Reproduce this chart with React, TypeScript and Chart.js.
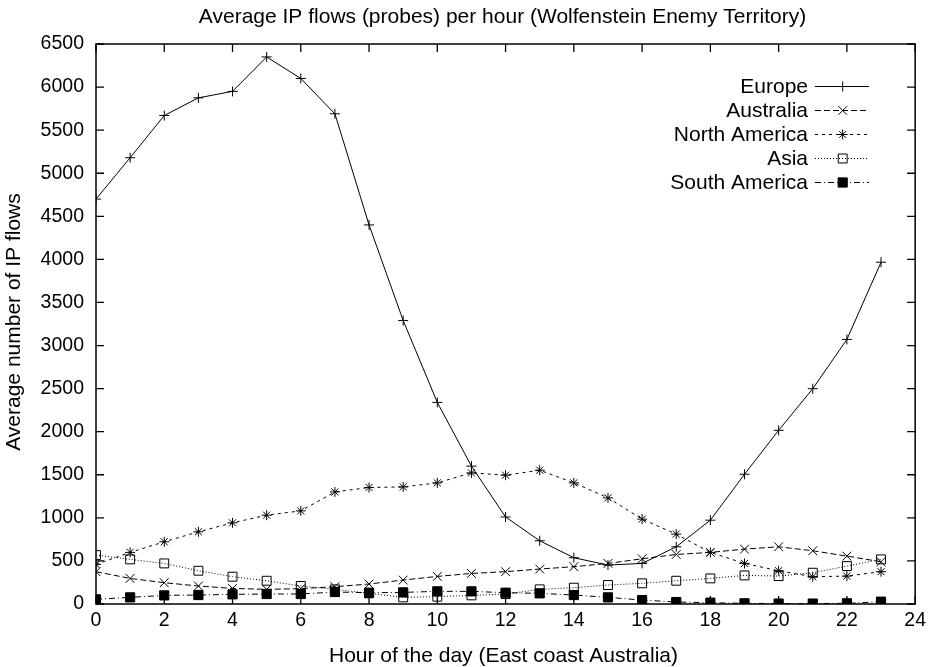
import { useEffect, useRef } from 'react';
import { Chart, registerables } from 'chart.js';

Chart.register(...registerables);

const hours = [0, 1, 2, 3, 4, 5, 6, 7, 8, 9, 10, 11, 12, 13, 14, 15, 16, 17, 18, 19, 20, 21, 22, 23];
const europe = [4700, 5180, 5670, 5875, 5950, 6350, 6100, 5690, 4400, 3290, 2340, 1600, 1010, 734, 537, 452, 471, 664, 973, 1506, 2016, 2499, 3071, 3967];
const australia = [375, 297, 247, 209, 181, 170, 178, 201, 232, 278, 320, 355, 375, 406, 433, 471, 525, 575, 599, 637, 664, 618, 556, 490];
const northAmerica = [460, 599, 722, 838, 942, 1031, 1081, 1301, 1352, 1359, 1406, 1522, 1495, 1553, 1406, 1232, 985, 811, 599, 471, 386, 317, 324, 375];
const asia = [568, 518, 471, 386, 317, 270, 209, 170, 124, 77, 85, 100, 115, 170, 189, 220, 240, 270, 297, 332, 324, 363, 440, 518];
const southAmerica = [54, 77, 100, 104, 112, 116, 116, 139, 131, 135, 147, 147, 131, 124, 104, 77, 46, 23, 15, 8, 5, 5, 8, 27];

const seriesNames = ['Europe', 'Australia', 'North America', 'Asia', 'South America'];
const xTickValues = [0, 2, 4, 6, 8, 10, 12, 14, 16, 18, 20, 22, 24];
const yTickValues = [0, 500, 1000, 1500, 2000, 2500, 3000, 3500, 4000, 4500, 5000, 5500, 6000, 6500];

const titleText = 'Average IP flows (probes) per hour (Wolfenstein Enemy Territory)';
const xTitle = 'Hour of the day (East coast Australia)';
const yTitle = 'Average number of IP flows';

const FONT = "'Liberation Sans', Arial, Helvetica, sans-serif";
const FS = 21;
const TICK_FS = 19.5;

const styles = [
  { dash: [], pointStyle: 'cross', radius: 5, fill: 'rgba(0,0,0,0)' },
  { dash: [6, 3], pointStyle: 'crossRot', radius: 6.2, fill: 'rgba(0,0,0,0)' },
  { dash: [3, 4], pointStyle: 'star', radius: 5, fill: 'rgba(0,0,0,0)' },
  { dash: [1, 2], pointStyle: 'rect', radius: 6.3, fill: 'rgba(0,0,0,0)' },
  { dash: [6, 3, 1, 3], pointStyle: 'rect', radius: 6.5, fill: '#000' },
];

function drawMarker(ctx: CanvasRenderingContext2D, st: any, x: number, y: number) {
  const r = st.radius;
  ctx.save();
  ctx.setLineDash([]);
  ctx.lineWidth = 1;
  ctx.strokeStyle = '#000';
  ctx.beginPath();
  if (st.pointStyle === 'cross' || st.pointStyle === 'star') {
    ctx.moveTo(x - r, y); ctx.lineTo(x + r, y);
    ctx.moveTo(x, y - r); ctx.lineTo(x, y + r);
  }
  if (st.pointStyle === 'crossRot' || st.pointStyle === 'star') {
    const d = r * Math.SQRT1_2;
    ctx.moveTo(x - d, y - d); ctx.lineTo(x + d, y + d);
    ctx.moveTo(x - d, y + d); ctx.lineTo(x + d, y - d);
  }
  if (st.pointStyle === 'rect') {
    const s = r * Math.SQRT1_2;
    ctx.rect(x - s, y - s, 2 * s, 2 * s);
    if (st.fill === '#000') { ctx.fillStyle = '#000'; ctx.fill(); }
  }
  ctx.stroke();
  ctx.restore();
}

const decorPlugin = {
  id: 'decor',
  beforeDatasetsDraw(chart: any) {
    const { ctx, chartArea: a, scales } = chart;
    const xs = scales.x;
    const ys = scales.y;
    ctx.save();
    ctx.strokeStyle = '#000';
    ctx.lineWidth = 1.5;
    ctx.setLineDash([]);
    ctx.strokeRect(a.left, a.top, a.right - a.left, a.bottom - a.top);
    ctx.lineWidth = 1.3;
    ctx.beginPath();
    xs.ticks.forEach((t: any) => {
      const px = xs.getPixelForValue(t.value);
      ctx.moveTo(px, a.bottom);
      ctx.lineTo(px, a.bottom - 8);
      ctx.moveTo(px, a.top);
      ctx.lineTo(px, a.top + 8);
    });
    ys.ticks.forEach((t: any) => {
      const py = ys.getPixelForValue(t.value);
      ctx.moveTo(a.left, py);
      ctx.lineTo(a.left + 8, py);
      ctx.moveTo(a.right, py);
      ctx.lineTo(a.right - 8, py);
    });
    ctx.stroke();

    ctx.fillStyle = '#000';
    ctx.font = `${FS}px ${FONT}`;
    ctx.textAlign = 'center';
    ctx.textBaseline = 'alphabetic';
    ctx.fillText(titleText, 502.5, 22.7);
    ctx.fillText(xTitle, 503.5, 661.5);
    ctx.save();
    ctx.translate(19.5, 322);
    ctx.rotate(-Math.PI / 2);
    ctx.fillText(yTitle, 0, 0);
    ctx.restore();
    ctx.restore();
  },
  afterDraw(chart: any) {
    const { ctx } = chart;
    ctx.save();
    ctx.font = `${FS}px ${FONT}`;
    ctx.fillStyle = '#000';
    ctx.strokeStyle = '#000';
    ctx.textAlign = 'right';
    ctx.textBaseline = 'alphabetic';
    seriesNames.forEach((name, i) => {
      const base = 93.3 + 24 * i;
      const ly = base - 6.8;
      ctx.fillStyle = '#000';
      ctx.fillText(name, 808, base);
      const st = styles[i];
      ctx.lineWidth = 1;
      ctx.setLineDash(st.dash);
      ctx.beginPath();
      ctx.moveTo(815, ly);
      ctx.lineTo(869, ly);
      ctx.stroke();
      drawMarker(ctx, st, 842.7, ly);
    });
    ctx.restore();
  },
};

export default function App() {
  const ref = useRef<HTMLCanvasElement | null>(null);
  useEffect(() => {
    document.body.style.margin = '0';
    const canvas = ref.current;
    if (!canvas) return;
    const data = [europe, australia, northAmerica, asia, southAmerica];
    const chart = new Chart(canvas, {
      type: 'line',
      data: {
        datasets: seriesNames.map((name, i) => ({
          label: name,
          data: hours.map((h, k) => ({ x: h, y: data[i][k] })),
          borderColor: '#000',
          borderWidth: 1,
          borderDash: styles[i].dash,
          pointStyle: styles[i].pointStyle as any,
          pointRadius: styles[i].radius,
          pointBorderWidth: 1,
          pointBorderColor: '#000',
          pointBackgroundColor: styles[i].fill,
          tension: 0,
          fill: false,
        })),
      },
      options: {
        animation: false,
        responsive: false,
        maintainAspectRatio: false,
        events: [],
        layout: { padding: { top: 44, right: 12, left: 0, bottom: 0 } },
        plugins: { legend: { display: false }, title: { display: false }, tooltip: { enabled: false } },
        scales: {
          x: {
            type: 'linear',
            min: 0,
            max: 24,
            afterFit: (s: any) => { s.height = 63; },
            afterBuildTicks: (s: any) => { s.ticks = xTickValues.map((v) => ({ value: v })); },
            grid: { display: false, drawTicks: false },
            border: { display: false },
            ticks: {
              autoSkip: false, maxRotation: 0, padding: 5, color: '#000',
              font: { family: FONT, size: TICK_FS },
              callback: (v: any) => String(v),
            },
          },
          y: {
            type: 'linear',
            min: 0,
            max: 6500,
            afterFit: (s: any) => { s.width = 96; },
            afterBuildTicks: (s: any) => { s.ticks = yTickValues.map((v) => ({ value: v })); },
            grid: { display: false, drawTicks: false },
            border: { display: false },
            ticks: {
              autoSkip: false, padding: 12, color: '#000',
              font: { family: FONT, size: TICK_FS },
              callback: (v: any) => String(v),
            },
          },
        },
      },
      plugins: [decorPlugin],
    });
    return () => chart.destroy();
  }, []);
  return <canvas ref={ref} width={931} height={667} style={{ display: 'block' }} />;
}
